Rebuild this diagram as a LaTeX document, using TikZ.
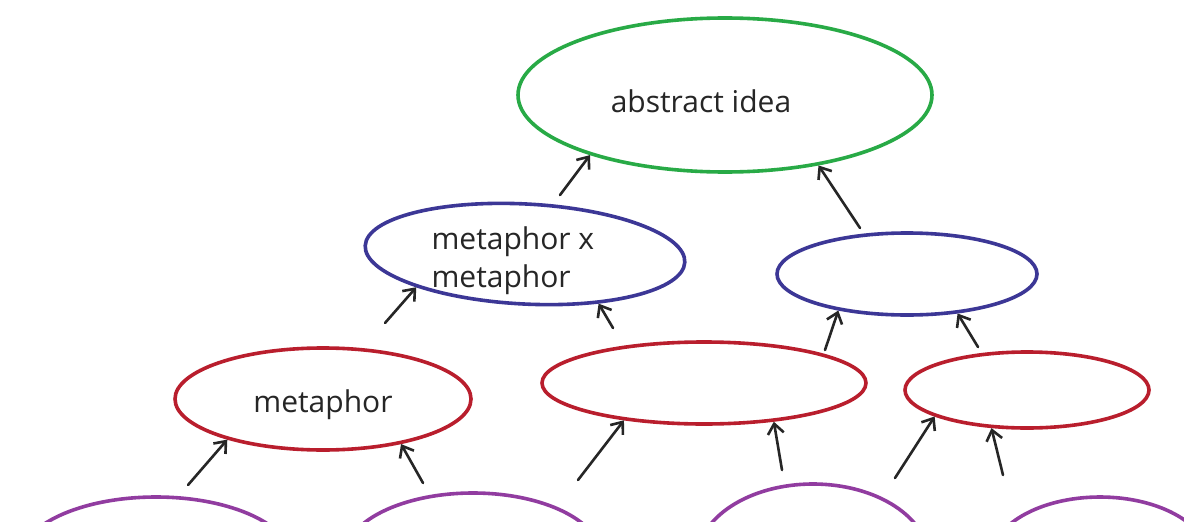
\documentclass[tikz,border=0pt]{standalone}
\usepackage{fontspec}
\setmainfont{Open Sans}
\usetikzlibrary{shapes.geometric,arrows.meta}
\definecolor{cgreen}{RGB}{40,170,70}
\definecolor{cblue}{RGB}{60,55,150}
\definecolor{cred}{RGB}{185,30,45}
\definecolor{cpurple}{RGB}{145,60,160}
\tikzset{
  oval/.style={ellipse, draw, line width=3.6pt, inner sep=0pt},
  lbl/.style={font=\fontsize{30}{38}\selectfont, text=black!85},
  arr/.style={-{Straight Barb[length=10pt,width=16pt,line width=2.6pt]}, line width=2.6pt, black!85, line cap=round},
}
\begin{document}
\begin{tikzpicture}[x=1pt,y=-1pt]
\useasboundingbox (0,0) rectangle (1184,522);
\fill[white] (0,0) rectangle (1184,522);
\clip (0,0) rectangle (1184,522);
% top
\node[oval, cgreen, minimum width=414pt, minimum height=154pt] (g) at (725,95) {};
\node[lbl] (gt) at (701,101) {abstract idea};
% middle
\node[oval, cblue, minimum width=320pt, minimum height=100pt, rotate=-3] (b1) at (525,254) {};
\node[lbl, align=left, anchor=west] (b1t) at (428,261) {metaphor x\\metaphor};
\node[oval, cblue, minimum width=260pt, minimum height=82pt] (b2) at (907,274) {};
% lower
\node[oval, cred, minimum width=296pt, minimum height=102pt] (r1) at (323,399) {};
\node[lbl] (r1t) at (323,405) {metaphor};
\node[oval, cred, minimum width=324pt, minimum height=82pt] (r2) at (704,383) {};
\node[oval, cred, minimum width=244pt, minimum height=76pt] (r3) at (1027,390) {};
% bottom (cut off)
\node[oval, cpurple, minimum width=274pt, minimum height=128pt] (p1) at (156,561) {};
\node[oval, cpurple, minimum width=257pt, minimum height=128pt] (p2) at (473,557) {};
\node[oval, cpurple, minimum width=232pt, minimum height=152pt] (p3) at (813,560) {};
\node[oval, cpurple, minimum width=220pt, minimum height=128pt] (p4) at (1100,561) {};
% arrow tails
\coordinate (t1) at (560,195);
\coordinate (t2) at (860,228);
\coordinate (t3) at (385,323);
\coordinate (t4) at (613,328);
\coordinate (t5) at (825,350);
\coordinate (t6) at (978,347);
\coordinate (t7) at (188,485);
\coordinate (t8) at (423,483);
\coordinate (t9) at (578,480);
\coordinate (t10) at (782,470);
\coordinate (t11) at (895,478);
\coordinate (t12) at (1003,475);
% arrows
\draw[arr] (t1) -- (g.204);
\draw[arr] (t2) -- (g.323);
\draw[arr] (t3) -- (b1.200);
\draw[arr] (t4) -- (b1.329);
\draw[arr] (t5) -- (b2.208);
\draw[arr] (t6) -- (b2.322);
\draw[arr] (t7) -- (r1.203);
\draw[arr] (t8) -- (r1.330);
\draw[arr] (t9) -- (r2.205);
\draw[arr] (t10) -- (r2.331);
\draw[arr] (t11) -- (r3.196);
\draw[arr] (t12) -- (r3.227);
\end{tikzpicture}
\end{document}
